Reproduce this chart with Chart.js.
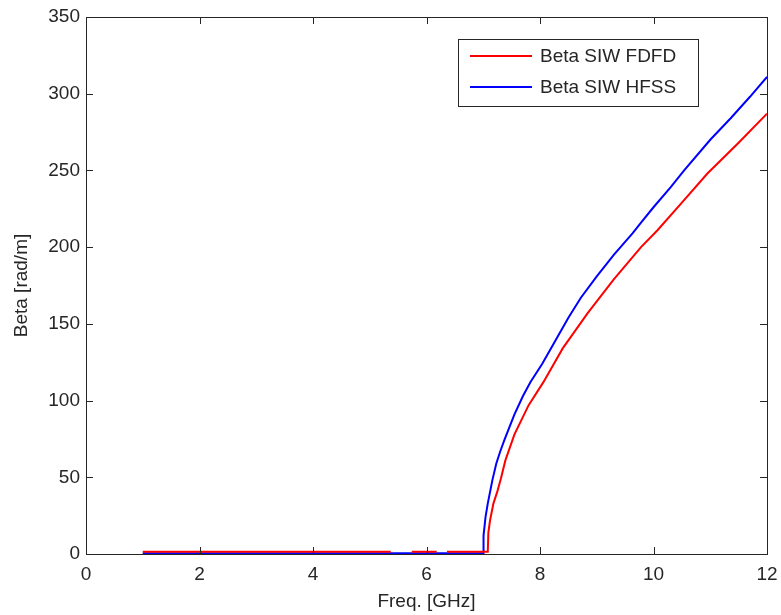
<!DOCTYPE html>
<html>
<head>
<meta charset="utf-8">
<script src="https://cdn.jsdelivr.net/npm/chart.js@4.4.1/dist/chart.umd.min.js"></script>
<style>
  body { margin: 0; background: #fff; }
  #wrap { width: 781px; height: 615px; }
</style>
</head>
<body>
<div id="wrap"><canvas id="myChartBeta" width="781" height="615"></canvas></div>
<script>
// Datos (frecuencia en GHz, beta en rad/m)
const freqFdfd = [1.0, 5.37, 5.5, 5.74, 6.18, 6.27, 6.36, 7.08, 7.09, 7.12, 7.18, 7.25, 7.31, 7.39, 7.55, 7.8, 8.06, 8.4, 8.84, 9.3, 9.78, 10.07, 10.5, 10.95, 11.5, 12.0];
const betaFdfd = [1.5, 1.5, null, 1.5, 1.5, null, 1.5, 1.5, 14, 22, 33, 41, 49, 61, 78, 97, 112, 134, 157, 179, 200, 211, 229, 248, 268, 287];

const freqHfss = [1.0, 7.0, 7.005, 7.04, 7.08, 7.16, 7.23, 7.3, 7.38, 7.55, 7.7, 7.83, 8.04, 8.3, 8.5, 8.72, 9.0, 9.3, 9.63, 9.78, 10.0, 10.3, 10.54, 11.0, 11.36, 11.7, 12.0];
const betaHfss = [0.5, 0.5, 12, 24, 33, 48, 59, 67, 75, 91, 103, 112, 124, 141, 154, 167, 181, 195, 209, 216, 226, 239, 250, 270, 284, 298, 311];

const xTicks = [0, 2, 4, 6, 8, 10, 12];
const yTicks = [0, 50, 100, 150, 200, 250, 300, 350];

const seriesNames = ['Beta SIW FDFD', 'Beta SIW HFSS'];
const seriesColors = ['#ff0000', '#0000ff'];

const fontName = '"Liberation Sans", Arial, sans-serif';
const textColor = '#262626';

const toPoints = (xs, ys) => xs.map((x, i) => ({ x: x, y: ys[i] }));

// Caja, marcas hacia dentro (estilo MATLAB) y leyenda
const axesBox = {
    id: 'axesBox',
    afterDatasetsDraw(chart) {
        const ctx = chart.ctx;
        const a = chart.chartArea;
        const xs = chart.scales.x;
        const ys = chart.scales.y;
        const tl = 7;
        ctx.save();
        ctx.strokeStyle = textColor;
        ctx.lineWidth = 1;
        ctx.beginPath();
        xTicks.forEach(v => {
            const px = Math.round(xs.getPixelForValue(v)) + 0.5;
            ctx.moveTo(px, a.bottom); ctx.lineTo(px, a.bottom - tl);
            ctx.moveTo(px, a.top); ctx.lineTo(px, a.top + tl);
        });
        yTicks.forEach(v => {
            const py = Math.round(ys.getPixelForValue(v)) + 0.5;
            ctx.moveTo(a.left, py); ctx.lineTo(a.left + tl, py);
            ctx.moveTo(a.right, py); ctx.lineTo(a.right - tl, py);
        });
        ctx.stroke();
        ctx.strokeRect(Math.round(a.left) + 0.5, Math.round(a.top) + 0.5,
            Math.round(a.right - a.left), Math.round(a.bottom - a.top));

        // leyenda
        const lx = 458, ly = 39, lw = 240, lh = 67;
        ctx.fillStyle = '#fff';
        ctx.fillRect(lx, ly, lw, lh);
        ctx.strokeRect(lx + 0.5, ly + 0.5, lw, lh);
        ctx.font = '19px ' + fontName;
        ctx.textBaseline = 'middle';
        seriesNames.forEach((name, i) => {
            const y = 56 + i * 31;
            ctx.strokeStyle = seriesColors[i];
            ctx.lineWidth = 2;
            ctx.beginPath();
            ctx.moveTo(470, y); ctx.lineTo(532, y);
            ctx.stroke();
            ctx.fillStyle = textColor;
            ctx.fillText(name, 540, y + 1);
        });
        ctx.restore();
    }
};

const ctx = document.getElementById('myChartBeta').getContext('2d');
new Chart(ctx, {
    type: 'line',
    data: {
        datasets: [
            {
                label: seriesNames[0],
                data: toPoints(freqFdfd, betaFdfd),
                borderColor: seriesColors[0],
                borderWidth: 2,
                pointRadius: 0,
                tension: 0,
                spanGaps: false
            },
            {
                label: seriesNames[1],
                data: toPoints(freqHfss, betaHfss),
                borderColor: seriesColors[1],
                borderWidth: 2,
                pointRadius: 0,
                tension: 0,
                spanGaps: false
            }
        ]
    },
    options: {
        responsive: false,
        animation: false,
        layout: { padding: { top: 17, right: 14, left: 0, bottom: 0 } },
        plugins: {
            legend: { display: false },
            tooltip: { enabled: false }
        },
        scales: {
            x: {
                type: 'linear',
                min: 0,
                max: 12,
                afterBuildTicks: s => { s.ticks = xTicks.map(v => ({ value: v })); },
                afterFit: s => { s.height = 61; s.paddingLeft = 0; s.paddingRight = 0; },
                grid: { display: false, drawTicks: false },
                border: { display: false },
                ticks: { color: textColor, font: { family: fontName, size: 19 }, padding: 9, maxRotation: 0 },
                title: {
                    display: true,
                    text: 'Freq. [GHz]',
                    color: textColor,
                    font: { family: fontName, size: 19 },
                    padding: { top: 0, bottom: 2 }
                }
            },
            y: {
                type: 'linear',
                min: 0,
                max: 350,
                afterBuildTicks: s => { s.ticks = yTicks.map(v => ({ value: v })); },
                afterFit: s => { s.width = 86; s.paddingTop = 0; s.paddingBottom = 0; },
                grid: { display: false, drawTicks: false },
                border: { display: false },
                ticks: { color: textColor, font: { family: fontName, size: 19 }, padding: 6 },
                title: {
                    display: true,
                    text: 'Beta [rad/m]',
                    color: textColor,
                    font: { family: fontName, size: 19 },
                    padding: { top: 10, bottom: 0 }
                }
            }
        }
    },
    plugins: [axesBox]
});
</script>
</body>
</html>
